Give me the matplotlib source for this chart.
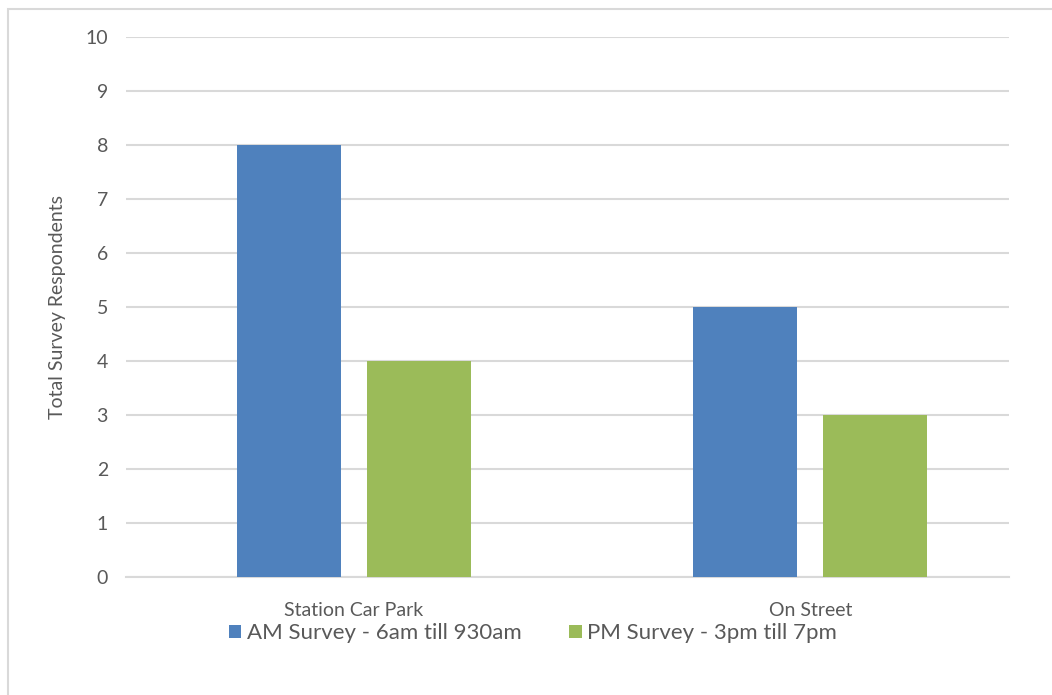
import matplotlib.pyplot as plt
from matplotlib.patches import Rectangle
import numpy as np

# Дані з діаграми
categories = ["Station Car Park", "On Street"]
am_values = [8, 5]
pm_values = [4, 3]
series_names = ["AM Survey - 6am till 930am", "PM Survey - 3pm till 7pm"]
y_ticks = list(range(0, 11))

plt.rcParams['font.family'] = ['Lato', 'DejaVu Sans']
text_col = "#595959"
grid_col = "#D9D9D9"

fig = plt.figure(figsize=(10.52, 6.95), dpi=100)
ax = fig.add_axes([0.1198, 0.1698, 0.8394, 0.777])

# Рамка навколо діаграми
fig.patches.append(Rectangle((8 / 1052, -0.1), 1.2, 0.1 + (695 - 9) / 695,
                             transform=fig.transFigure, fill=False,
                             edgecolor=grid_col, linewidth=1.5))

x = np.arange(len(categories))
w = 0.228
off = 0.143
ax.bar(x - off, am_values, w, color="#4F81BD", label=series_names[0], zorder=3)
ax.bar(x + off, pm_values, w, color="#9BBB59", label=series_names[1], zorder=3)

ax.set_xlim(-0.5, 1.436)
ax.set_ylim(0, 10)
ax.set_yticks(y_ticks)
ax.set_xticks(x)
ax.set_xticklabels(categories)
ax.yaxis.grid(True, color=grid_col, linewidth=1.5, zorder=0)
ax.set_axisbelow(True)
for s in ["top", "right", "left"]:
    ax.spines[s].set_visible(False)
ax.spines["bottom"].set_color(grid_col)
ax.spines["bottom"].set_linewidth(1.5)
ax.tick_params(axis="both", length=0, colors=text_col, labelsize=14)
ax.tick_params(axis="y", pad=13)
ax.tick_params(axis="x", pad=18)

ax.set_ylabel("Total Survey Respondents", color=text_col, fontsize=14, labelpad=14)

ax.legend(loc="center", bbox_to_anchor=(0.461, -0.104), ncol=2, frameon=False,
          fontsize=16, labelcolor=text_col, handlelength=0.55, handleheight=0.55,
          handletextpad=0.25, columnspacing=2.15)

fig.savefig("out.png", dpi=100)
